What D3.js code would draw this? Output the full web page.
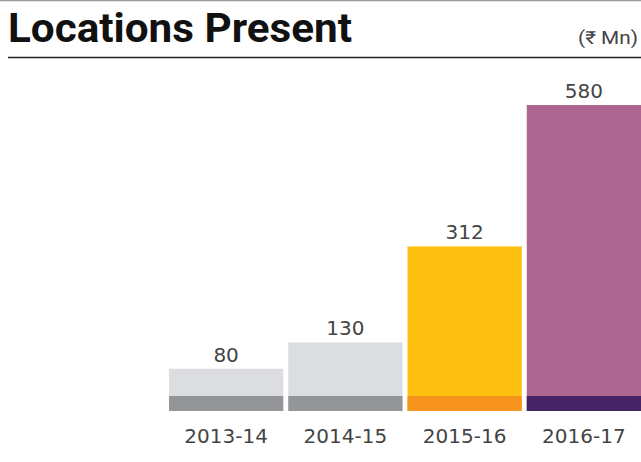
<!DOCTYPE html>
<html>
<head>
<meta charset="utf-8">
<script src="https://cdn.jsdelivr.net/npm/d3@7"></script>
<style>
  body { margin: 0; background: #fff; }
</style>
</head>
<body>
<script>
var w = 641;
var h = 462;

var years = ["2013-14", "2014-15", "2015-16", "2016-17"];
var values = [80, 130, 312, 580];
var topColors = ["#dcdde0", "#dcdde0", "#fdc010", "#ac6690"];
var baseColors = ["#939598", "#939598", "#f7941d", "#452466"];

var baseY = 411;
var stripH = 15;

var svg = d3.select("body")
    .append("svg")
    .attr("width", w)
    .attr("height", h);

// header
svg.append("line")
    .attr("x1", 0).attr("x2", w)
    .attr("y1", 0.5).attr("y2", 0.5)
    .attr("stroke", "#9a9a9a")
    .attr("stroke-width", 1.5);

svg.append("text")
    .attr("x", 8)
    .attr("y", 42)
    .attr("font-family", "Roboto, sans-serif")
    .attr("font-weight", 700)
    .attr("font-size", 41)
    .attr("textLength", 344)
    .attr("lengthAdjust", "spacingAndGlyphs")
    .attr("fill", "#111")
    .text("Locations Present");

svg.append("text")
    .attr("x", 638)
    .attr("y", 44)
    .attr("text-anchor", "end")
    .attr("font-family", "Roboto, sans-serif")
    .attr("font-size", 18)
    .attr("textLength", 60)
    .attr("lengthAdjust", "spacingAndGlyphs")
    .attr("fill", "#444")
    .text("(₹ Mn)");

svg.append("line")
    .attr("x1", 8).attr("x2", w)
    .attr("y1", 57.5).attr("y2", 57.5)
    .attr("stroke", "#222")
    .attr("stroke-width", 1.5);

var xScale = d3.scaleBand()
    .domain(years)
    .range([166.5, 643.5])
    .paddingInner(0.042)
    .paddingOuter(0.021);

var yScale = d3.scaleLinear()
    .domain([0, 580])
    .range([baseY, 105]);

var bars = svg.selectAll(".bar")
    .data(years)
    .enter()
    .append("g");

bars.append("rect")
    .attr("x", function(d) { return xScale(d); })
    .attr("y", function(d, i) { return yScale(values[i]); })
    .attr("width", xScale.bandwidth())
    .attr("height", function(d, i) { return baseY - yScale(values[i]); })
    .attr("fill", function(d, i) { return topColors[i]; });

bars.append("rect")
    .attr("x", function(d) { return xScale(d); })
    .attr("y", baseY - stripH)
    .attr("width", xScale.bandwidth())
    .attr("height", stripH)
    .attr("fill", function(d, i) { return baseColors[i]; });

bars.append("text")
    .attr("x", function(d) { return xScale(d) + xScale.bandwidth() / 2; })
    .attr("y", function(d, i) { return yScale(values[i]) - 7; })
    .attr("text-anchor", "middle")
    .attr("font-family", "'DejaVu Sans', sans-serif")
    .attr("font-size", 20)
    .attr("fill", "#444")
    .text(function(d, i) { return values[i]; });

var xAxis = d3.axisBottom(xScale).tickSize(0).tickPadding(0);

svg.append("g")
    .attr("transform", "translate(0," + (baseY + 32) + ")")
    .call(xAxis)
    .call(function(g) { g.select(".domain").remove(); })
    .selectAll("text")
    .attr("dy", 0)
    .attr("font-family", "'DejaVu Sans', sans-serif")
    .attr("font-size", 20)
    .attr("fill", "#444");
</script>
</body>
</html>
